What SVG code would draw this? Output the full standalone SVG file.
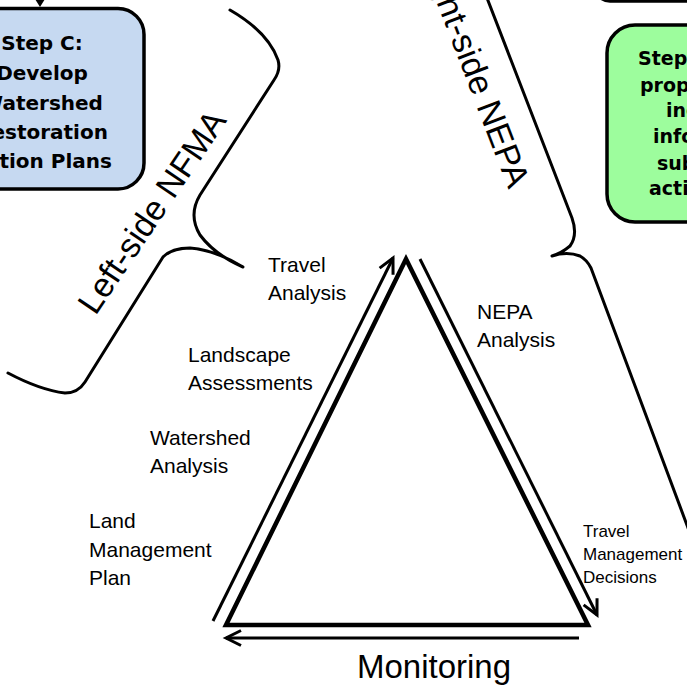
<svg xmlns="http://www.w3.org/2000/svg" width="687" height="687" viewBox="0 0 687 687">
  <style>
    .lbl { font-family: "Liberation Sans", Arial, sans-serif; font-size: 21px; fill: #000; }
    .sm { font-family: "Liberation Sans", Arial, sans-serif; font-size: 17px; fill: #000; }
    .big { font-family: "Liberation Sans", Arial, sans-serif; font-size: 34px; fill: #000; }
    .mon { font-family: "Liberation Sans", Arial, sans-serif; font-size: 33px; fill: #000; }
    .comic { font-family: "Comic Sans MS", "DejaVu Sans", sans-serif; font-weight: bold; fill: #000; }
    .box { stroke: #000; stroke-width: 3.5; }
    .brace { fill: none; stroke: #000; stroke-width: 3; stroke-linecap: round; stroke-linejoin: round; }
    .arr { fill: none; stroke: #000; stroke-width: 3; }
  </style>
  <defs>
    <marker id="ah" markerUnits="userSpaceOnUse" markerWidth="20" markerHeight="20" refX="15" refY="7.5" orient="auto" overflow="visible">
      <path d="M0,0 L15,7.5 L0,15" fill="none" stroke="#000" stroke-width="3"/>
    </marker>
  </defs>
  <rect width="687" height="687" fill="#fff"/>

  <g id="box-top-right">
    <rect class="box" x="595" y="-100" width="200" height="101" rx="15" fill="#fff"/>
  </g>

  <g id="box-step-c">
    <rect class="box" x="-62" y="8.5" width="206" height="180.5" rx="26" fill="#c6d9f1"/>
    <g class="comic" font-size="20" text-anchor="middle">
      <text x="42" y="50">Step C:</text>
      <text x="42" y="80">Develop</text>
      <text x="42" y="110">Watershed</text>
      <text x="42" y="139">Restoration</text>
      <text x="42" y="168">Action Plans</text>
    </g>
  </g>

  <g id="box-step-d">
    <rect class="box" x="607" y="25" width="200" height="197" rx="28" fill="#9dfd9d"/>
    <g class="comic" font-size="19">
      <text x="638" y="65">Step</text>
      <text x="640" y="92">propo</text>
      <text x="666" y="117">inc</text>
      <text x="653" y="143">info</text>
      <text x="657" y="170">sub</text>
      <text x="649" y="195">acti</text>
    </g>
  </g>

  <g id="brace-left">
    <path class="brace" d="M230,10 Q268,32 278,60 Q281,70 274,80 L200,195 Q188,215 200,235 Q215,255 243,267 Q215,250 190,248 Q172,248 163,257 L85,382 Q78,393 65,393 Q40,390 8,373"/>
    <text class="big" transform="translate(95.4,316.3) rotate(-56)">Left-side NFMA</text>
  </g>

  <g id="brace-right">
    <path class="brace" d="M487,-2 L572,218 Q578,235 570,246 Q562,253 552,256 Q567,251 580,256 Q587,260 591,268 L700,560"/>
    <text class="big" text-anchor="end" transform="translate(508.6,190) rotate(69)">Right-side NEPA</text>
  </g>

  <g id="triangle">
    <polygon points="406,259 588,625 226,625" fill="none" stroke="#000" stroke-width="4.5" stroke-linejoin="miter"/>
  </g>

  <g id="connectors">
    <path class="arr" d="M213,621 L393,258" marker-end="url(#ah)"/>
    <path class="arr" d="M420,259 L597,615" marker-end="url(#ah)"/>
    <path class="arr" d="M579,638 L226,638" marker-end="url(#ah)"/>
    <path class="arr" d="M40,-20 L40,0"/>
    <polygon points="35,-1 45,-1 40,7" fill="#000"/>
  </g>

  <g id="label-travel-analysis">
    <text class="lbl" x="268" y="272">Travel</text>
    <text class="lbl" x="268" y="300">Analysis</text>
  </g>
  <g id="label-nepa-analysis">
    <text class="lbl" x="477" y="319">NEPA</text>
    <text class="lbl" x="477" y="347">Analysis</text>
  </g>
  <g id="label-landscape">
    <text class="lbl" x="188" y="362">Landscape</text>
    <text class="lbl" x="188" y="390">Assessments</text>
  </g>
  <g id="label-watershed">
    <text class="lbl" x="150" y="445">Watershed</text>
    <text class="lbl" x="150" y="473">Analysis</text>
  </g>
  <g id="label-lmp">
    <text class="lbl" x="89" y="528">Land</text>
    <text class="lbl" x="89" y="557">Management</text>
    <text class="lbl" x="89" y="585">Plan</text>
  </g>
  <g id="label-tmd">
    <text class="sm" x="583" y="537">Travel</text>
    <text class="sm" x="583" y="560">Management</text>
    <text class="sm" x="583" y="583">Decisions</text>
  </g>
  <g id="label-monitoring">
    <text class="mon" x="357" y="678">Monitoring</text>
  </g>
</svg>
